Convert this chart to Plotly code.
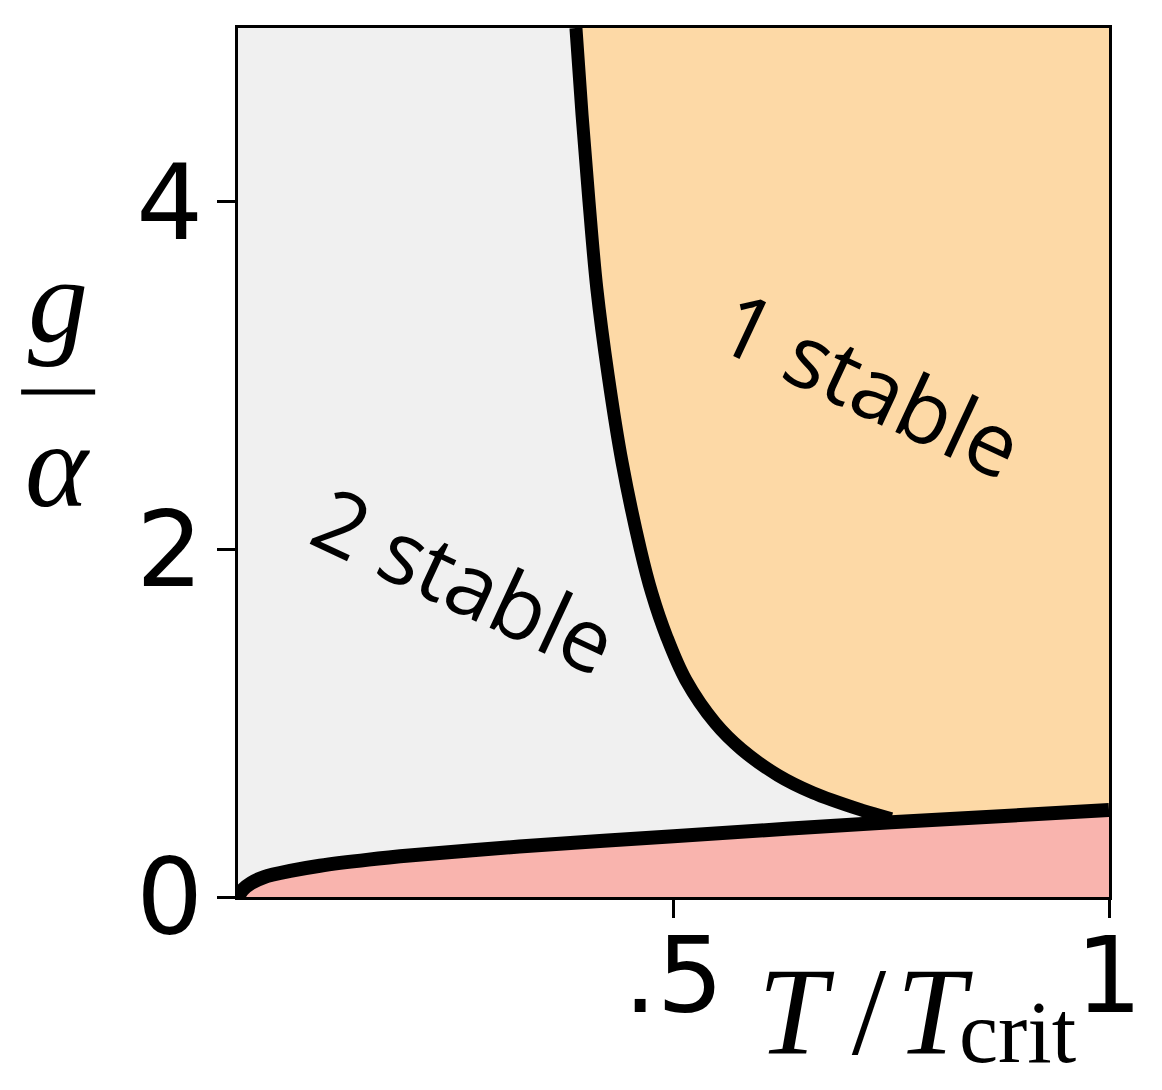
import plotly.graph_objects as go

# lower boundary (pink region below it)
lower_x = [0, 0.005, 0.015, 0.03, 0.06, 0.094, 0.15, 0.2, 0.323, 0.5, 0.75, 1.0]
lower_y = [0, 0.04, 0.08, 0.115, 0.15, 0.18, 0.215, 0.24, 0.29, 0.35, 0.43, 0.50]

# upper boundary (between "2 stable" and "1 stable"), ends on the lower one
upper_x = [0.388, 0.395, 0.403, 0.412, 0.425, 0.441, 0.462, 0.475, 0.492,
           0.514, 0.548, 0.578, 0.620, 0.660, 0.716, 0.736, 0.75]
upper_y = [5.0, 4.5, 4.0, 3.5, 3.0, 2.5, 2.0, 1.75, 1.5,
           1.25, 1.0, 0.85, 0.7, 0.6, 0.5, 0.47, 0.45]

x_ticks = [0.5, 1]
x_ticktext = [".5", "1"]
y_ticks = [0, 2, 4]
y_ticktext = ["0", "2", "4"]

region_labels = ["2 stable", "1 stable"]
label_x = [0.261, 0.727]
label_y = [1.83, 2.96]

gray = "#f0f0f0"
orange = "#fdd9a6"
pink = "#f9b4ae"

fig = go.Figure()

# orange region: right of upper curve, above lower curve
tail_x = [x for x in lower_x if x > upper_x[-1]]
tail_y = [y for x, y in zip(lower_x, lower_y) if x > upper_x[-1]]
ox = upper_x + tail_x + [1, upper_x[0]]
oy = upper_y + tail_y + [5, upper_y[0]]
fig.add_trace(go.Scatter(x=ox, y=oy, fill="toself", fillcolor=orange,
                         mode="none", hoverinfo="skip"))

# pink region
fig.add_trace(go.Scatter(x=lower_x, y=lower_y, fill="tozeroy", fillcolor=pink,
                         mode="none", hoverinfo="skip"))

# boundaries
fig.add_trace(go.Scatter(x=lower_x, y=lower_y, mode="lines",
                         line=dict(color="black", width=14, shape="spline", smoothing=0.8)))
fig.add_trace(go.Scatter(x=upper_x, y=upper_y, mode="lines",
                         line=dict(color="black", width=13, shape="spline", smoothing=1.0)))

for t, lx, ly in zip(region_labels, label_x, label_y):
    fig.add_annotation(x=lx, y=ly, xref="x", yref="y", text=t, showarrow=False,
                       textangle=25, font=dict(family="Open Sans", size=88, color="black"))

# y axis title as a fraction g / alpha
math_font = dict(family="Liberation Serif", size=120, color="black")
fig.add_annotation(x=-0.207, y=3.43, xref="paper", yref="y", text="<i>g</i>",
                   showarrow=False, xanchor="center", font=math_font)
fig.add_annotation(x=-0.207, y=2.48, xref="paper", yref="y", text="<i>α</i>",
                   showarrow=False, xanchor="center", font=math_font)
fig.add_shape(type="line", xref="paper", yref="y", x0=-0.249, x1=-0.164,
              y0=2.905, y1=2.905, line=dict(color="black", width=5))

# x axis title T / T_crit
fig.add_annotation(x=0.847, y=-0.1324, xref="paper", yref="paper",
                   text="<i>T</i>\u2009/\u200a<i>T</i>", showarrow=False,
                   xanchor="right", yanchor="middle",
                   font=dict(family="Liberation Serif", size=124, color="black"))
fig.add_annotation(x=0.826, y=-0.156, xref="paper", yref="paper",
                   text="crit", showarrow=False,
                   xanchor="left", yanchor="middle",
                   font=dict(family="Liberation Serif", size=88, color="black"))

fig.update_xaxes(range=[0, 1], tickvals=x_ticks, ticktext=x_ticktext,
                 ticks="outside", ticklen=18, tickwidth=3, tickcolor="black",
                 showline=True, linecolor="black", linewidth=3, mirror=True,
                 showgrid=False, zeroline=False, ticklabelstandoff=-32,
                 tickfont=dict(family="DejaVu Sans", size=105, color="black"))
fig.update_yaxes(range=[0, 5], tickvals=y_ticks, ticktext=y_ticktext,
                 ticks="outside", ticklen=18, tickwidth=3, tickcolor="black",
                 showline=True, linecolor="black", linewidth=3, mirror=True,
                 showgrid=False, zeroline=False, ticklabelstandoff=-7,
                 tickfont=dict(family="DejaVu Sans", size=105, color="black"))

fig.update_layout(width=1146, height=1074, showlegend=False,
                  margin=dict(l=230, r=42, t=20, b=185),
                  plot_bgcolor=gray, paper_bgcolor="white")

fig.write_html("out.html")
